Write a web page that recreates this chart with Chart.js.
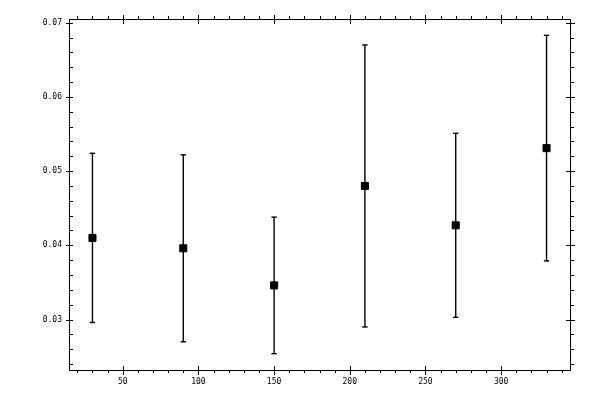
<!DOCTYPE html>
<html>
<head>
<meta charset="utf-8">
<script src="https://cdn.jsdelivr.net/npm/chart.js@4"></script>
<style>
  body { margin: 0; background: #fff; }
</style>
</head>
<body>
<canvas id="chart" width="600" height="400"></canvas>
<script>
// data
const xValues = [30, 90, 150, 210, 270, 330];
const means = [0.0410, 0.0396, 0.0346, 0.0480, 0.0427, 0.0531];
const errors = [0.0114, 0.0126, 0.0092, 0.0190, 0.0124, 0.0152];
const xTicks = [50, 100, 150, 200, 250, 300];
const yTicks = [0.03, 0.04, 0.05, 0.06, 0.07];

const FONT = { family: '"DejaVu Sans Mono", monospace', size: 8 };

// little tick marks on all four sides, plus top/right frame
const frameTicks = {
    id: 'frameTicks',
    afterDraw(chart) {
        const { ctx, chartArea: a, scales: { x, y } } = chart;
        const px = v => Math.round(v) + 0.5;
        ctx.save();
        ctx.strokeStyle = '#000';
        ctx.lineWidth = 1;
        ctx.beginPath();
        ctx.moveTo(px(a.left), px(a.top));
        ctx.lineTo(px(a.right), px(a.top));
        ctx.lineTo(px(a.right), px(a.bottom));
        const line = (x1, y1, x2, y2) => { ctx.moveTo(x1, y1); ctx.lineTo(x2, y2); };
        for (let v = 20; v <= 340; v += 10) {
            const xp = px(x.getPixelForValue(v));
            if (v % 50 === 0) {
                line(xp, a.bottom - 4, xp, a.bottom + 5);
                line(xp, a.top - 4, xp, a.top + 5);
            } else {
                line(xp, a.bottom, xp, a.bottom + 3);
                line(xp, a.top - 3, xp, a.top);
            }
        }
        for (let k = 24; k <= 70; k += 2) {
            const yp = px(y.getPixelForValue(k / 1000));
            if (k % 10 === 0) {
                line(a.left - 3, yp, a.left + 4, yp);
                line(a.right - 4, yp, a.right + 5, yp);
            } else {
                line(a.left, yp, a.left + 4, yp);
                line(a.right, yp, a.right + 4, yp);
            }
        }
        ctx.stroke();
        ctx.restore();
    }
};

const errorSets = xValues.map((xv, i) => ({
    type: 'line',
    data: [{ x: xv, y: means[i] - errors[i] }, { x: xv, y: means[i] + errors[i] }],
    borderColor: '#000',
    borderWidth: 1.4,
    pointStyle: 'line',
    pointRadius: 2.7,
    pointBorderColor: '#000',
    pointBorderWidth: 1.4,
    fill: false
}));

new Chart(document.getElementById('chart'), {
    type: 'scatter',
    data: {
        datasets: [{
            data: xValues.map((xv, i) => ({ x: xv, y: means[i] })),
            pointStyle: 'rect',
            pointRadius: 5,
            backgroundColor: '#000',
            borderColor: '#000',
            borderWidth: 1
        }, ...errorSets]
    },
    options: {
        responsive: false,
        animation: false,
        devicePixelRatio: 1,
        layout: { padding: { top: 19, right: 30, left: 0, bottom: 0 } },
        plugins: { legend: { display: false }, tooltip: { enabled: false } },
        scales: {
            x: {
                type: 'linear',
                min: 14.5,
                max: 345.5,
                grid: { display: false, drawTicks: false },
                border: { display: true, color: '#000', width: 1 },
                ticks: { color: '#000', font: FONT, padding: 7, maxRotation: 0 },
                afterBuildTicks: s => { s.ticks = xTicks.map(v => ({ value: v })); },
                afterFit: s => { s.height = 30; }
            },
            y: {
                type: 'linear',
                min: 0.0232,
                max: 0.0705,
                grid: { display: false, drawTicks: false },
                border: { display: true, color: '#000', width: 1 },
                ticks: { color: '#000', font: FONT, padding: 7, callback: v => v.toFixed(2) },
                afterBuildTicks: s => { s.ticks = yTicks.map(v => ({ value: v })); },
                afterFit: s => { s.width = 69; }
            }
        }
    },
    plugins: [frameTicks]
});
</script>
</body>
</html>
